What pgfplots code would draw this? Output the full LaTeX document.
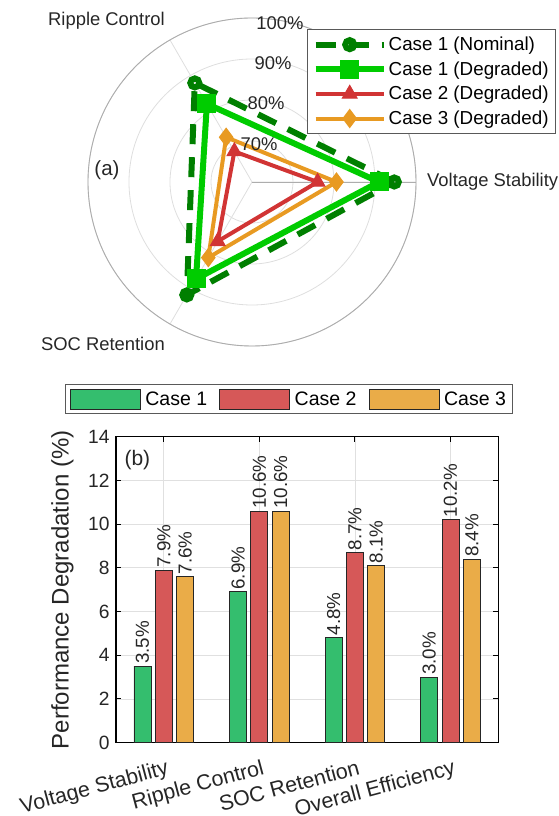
\documentclass[border=0pt]{standalone}
\usepackage{fontspec}
\setmainfont{Liberation Sans}
\usepackage{pgfplots}
\pgfplotsset{compat=1.18}
\usepgfplotslibrary{polar}
\definecolor{dkg}{HTML}{007F00}
\definecolor{brg}{HTML}{00CC00}
\definecolor{rd}{HTML}{D13434}
\definecolor{orn}{HTML}{E89A22}
\definecolor{bg}{HTML}{34BE6E}
\definecolor{br}{HTML}{D65858}
\definecolor{bo}{HTML}{EAAC48}
\definecolor{txt}{HTML}{262626}
\newcommand{\fs}{\fontsize{18.4bp}{22bp}\selectfont}
\begin{document}
\begin{tikzpicture}
\useasboundingbox (0,0) rectangle (559bp,816bp);
\begin{polaraxis}[
  scale only axis, width=328bp, height=328bp,
  at={(252bp,634bp)}, anchor=center,
  xmin=0, xmax=360, ymin=0, ymax=40,
  xtick={0,120,240}, ytick={10,20,30,40},
  xticklabels={,,}, yticklabels={,,,},
  major tick length=0pt,
  xmajorgrids, ymajorgrids,
  major grid style={color=black!13, line width=0.8bp},
  axis line style={color=black!32, line width=0.9bp},
  y filter/.expression={y-60},
  clip=false,
  font=\fs,
  legend style={at={(1.427,0.966)}, anchor=north east, draw=black!65, line width=0.9bp, font=\fontsize{18.8bp}{22bp}\selectfont, text=black, inner xsep=5bp, inner ysep=5.5bp, row sep=5.5bp, nodes={inner sep=2bp}},
  legend cell align=left,
  legend image code/.code={\draw[mark repeat=2,mark phase=2,#1] plot coordinates {(0bp,0bp) (34bp,0bp) (68bp,0bp)};},
]
\addplot[dkg, line width=6bp, dash pattern=on 20bp off 13bp, mark=o, mark size=4.5bp, mark options={solid, line width=6bp, fill=none}] coordinates {(0,94.7) (120,87.9) (240,91.8)} -- cycle;
\addlegendentry{Case 1 (Nominal)}
\addplot[brg, line width=6bp, mark=square*, mark size=6.5bp, mark options={solid, fill=brg}] coordinates {(0,91.0) (120,82.0) (240,87.3)} -- cycle;
\addlegendentry{Case 1 (Degraded)}
\addplot[rd, line width=4bp, mark=triangle*, mark size=8.5bp, mark options={solid, fill=rd, line width=1bp}] coordinates {(0,76.0) (120,68.6) (240,76.7)} -- cycle;
\addlegendentry{Case 2 (Degraded)}
\addplot[orn, line width=4bp, mark=diamond*, mark size=9bp, mark options={solid, fill=orn, line width=1bp}] coordinates {(0,80.6) (120,72.6) (240,81.3)} -- cycle;
\addlegendentry{Case 3 (Degraded)}
\end{polaraxis}
\begin{scope}[every node/.style={font=\fs, text=txt, inner sep=0pt}]
\node[anchor=west] at (427bp,634bp) {Voltage Stability};
\node[anchor=south east] at (165bp,786bp) {Ripple Control};
\node[anchor=north east] at (165bp,479bp) {SOC Retention};
\node at (259bp,672bp) {70\%};
\node at (266bp,713bp) {80\%};
\node at (273bp,753bp) {90\%};
\node at (280bp,793bp) {100\%};
\node[font=\fontsize{20.5bp}{24bp}\selectfont] at (107bp,646bp) {(a)};
\end{scope}
\begin{axis}[
  at={(116bp,73.3bp)}, anchor=south west, scale only axis,
  width=382.3bp, height=306bp,
  xmin=-0.5, xmax=3.5, ymin=0, ymax=14,
  ybar, bar width=0.178,
  xtick={0,1,2,3}, xticklabels={Voltage Stability, Ripple Control, SOC Retention, Overall Efficiency},
  ytick={0,2,...,14},
  tick align=inside, major tick length=5bp,
  grid=major, major grid style={black!12, line width=0.8bp},
  axis line style={black, line width=1.2bp},
  tick style={black, line width=1bp},
  ticklabel style={font=\fontsize{19.2bp}{23bp}\selectfont, text=txt},
  yticklabel style={xshift=-3bp},
  xticklabel style={font=\fontsize{21.4bp}{25bp}\selectfont, rotate=15, anchor=north east, inner sep=0bp, xshift=-2.4bp, yshift=-16bp},
  ylabel={Performance Degradation (\%)},
  ylabel style={at={(axis description cs:-0.14,0.5)}, anchor=center, font=\fontsize{24bp}{28bp}\selectfont, text=txt},
  /pgf/number format/assume math mode=true,
  nodes near coords={\pgfmathprintnumber[fixed,fixed zerofill,precision=1]{\pgfplotspointmeta}\%},
  every node near coord/.append style={rotate=90, anchor=west, font=\fontsize{18.8bp}{22bp}\selectfont, text=txt, inner sep=2bp},
  legend columns=3,
  legend style={at={(-0.1334,1.172)}, anchor=north west, draw=black!65, line width=0.9bp, font=\fontsize{19.5bp}{23bp}\selectfont, text=black, inner xsep=4.5bp, inner ysep=4bp, nodes={inner sep=2bp}, /tikz/every odd column/.append style={column sep=2.5bp}, /tikz/every even column/.append style={column sep=10.2bp}},
  legend image code/.code={\draw[#1,line width=0.9bp] (0bp,-10bp) rectangle (70bp,10bp);},
]
\addplot[bar shift=-0.223, fill=bg, draw=black!85, line width=0.8bp] coordinates {(0,3.5) (1,6.9) (2,4.8) (3,3.0)};
\addlegendentry{Case 1}
\addplot[bar shift=0, fill=br, draw=black!85, line width=0.8bp] coordinates {(0,7.9) (1,10.6) (2,8.7) (3,10.2)};
\addlegendentry{Case 2}
\addplot[bar shift=0.223, fill=bo, draw=black!85, line width=0.8bp] coordinates {(0,7.6) (1,10.6) (2,8.1) (3,8.4)};
\addlegendentry{Case 3}
\node[font=\fontsize{21bp}{25bp}\selectfont, text=txt] at (axis description cs:0.056,0.924) {(b)};
\end{axis}
\end{tikzpicture}
\end{document}
